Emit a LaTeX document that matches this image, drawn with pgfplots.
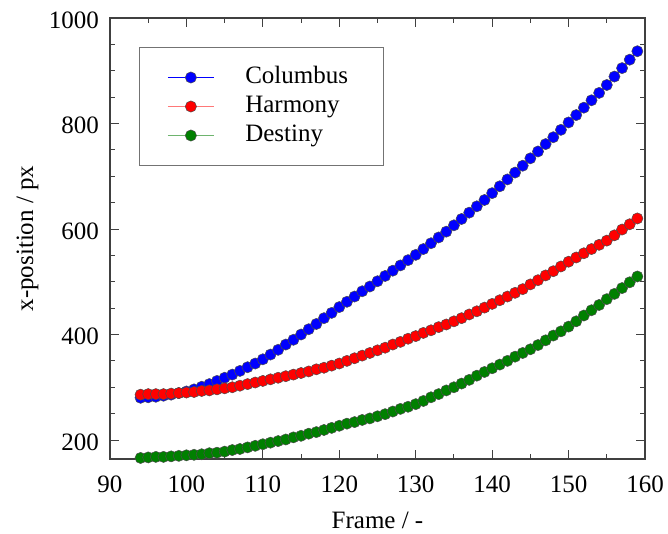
\documentclass[border=0pt]{standalone}
\usepackage{fontspec}
\setmainfont{Liberation Serif}
\usepackage{pgfplots}
\pgfplotsset{compat=1.18}
\definecolor{cblue}{RGB}{0,0,255}
\definecolor{cred}{RGB}{255,0,0}
\definecolor{cgreen}{RGB}{0,128,0}
\definecolor{lred}{RGB}{255,120,120}
\definecolor{lgreen}{RGB}{110,180,110}
\pgfplotstableread{
x y
94 280
95 281
96 282
97 284
98 286
99 289
100 292
101 296
102 301
103 306
104 312
105 318
106 324
107 331
108 338
109 345
110 353
111 362
112 371
113 381
114 390
115 400
116 410
117 420
118 431
119 441
120 452
121 462
122 472
123 482
124 491
125 501
126 511
127 521
128 531
129 541
130 551
131 562
132 573
133 584
134 595
135 607
136 619
137 631
138 643
139 655
140 668
141 681
142 694
143 707
144 720
145 734
146 747
147 761
148 774
149 788
150 802
151 816
152 830
153 844
154 858
155 873
156 889
157 905
158 921
159 937
}\columbus
\pgfplotstableread{
x y
94 286
95 287
96 287
97 287
98 288
99 289
100 290
101 291
102 293
103 294
104 296
105 298
106 300
107 303
108 306
109 309
110 312
111 315
112 318
113 321
114 324
115 327
116 330
117 334
118 337
119 341
120 345
121 350
122 355
123 360
124 365
125 370
126 375
127 381
128 386
129 392
130 397
131 403
132 408
133 414
134 419
135 425
136 431
137 438
138 444
139 451
140 458
141 465
142 472
143 479
144 486
145 495
146 503
147 512
148 520
149 529
150 538
151 546
152 554
153 562
154 570
155 578
156 588
157 599
158 609
159 620
}\harmony
\pgfplotstableread{
x y
94 166
95 167
96 168
97 168
98 169
99 170
100 171
101 172
102 173
103 175
104 176
105 178
106 181
107 183
108 186
109 189
110 192
111 195
112 198
113 201
114 205
115 208
116 212
117 215
118 219
119 223
120 227
121 231
122 234
123 238
124 241
125 245
126 249
127 254
128 259
129 263
130 268
131 274
132 281
133 287
134 294
135 300
136 307
137 314
138 322
139 329
140 336
141 343
142 350
143 358
144 365
145 372
146 380
147 389
148 398
149 406
150 415
151 425
152 436
153 446
154 456
155 467
156 477
157 488
158 499
159 510
}\destiny
\begin{document}
\begin{tikzpicture}
\begin{axis}[
  name=ax,
  scale only axis, width=535pt, height=441pt,
  xmin=90, xmax=160, ymin=164, ymax=1000,
  xtick={90,100,...,160}, ytick={200,400,...,1000},
  minor x tick num=1, minor y tick num=3,
  tick align=inside, major tick length=9pt, minor tick length=5pt,
  axis line style={line width=1.2pt, black!75},
  every tick/.style={black!75, line width=0.9pt},
  /pgf/number format/assume math mode=true,
  /pgf/number format/1000 sep={},
  ticklabel style={font=\fontsize{25}{30}\selectfont, inner sep=0pt},
  yticklabel style={xshift=-11pt, yshift=-2pt},
  xticklabel style={yshift=-17pt},
  xlabel={Frame / -}, ylabel={x-position / px},
  every axis x label/.style={at={(axis description cs:0.5,0)}, anchor=base, yshift=-69pt, font=\fontsize{25}{30}\selectfont},
  every axis y label/.style={at={(axis description cs:-0.1439,0.5)}, anchor=base, rotate=90, font=\fontsize{25}{30}\selectfont},
  legend style={at={(axis description cs:0.0542,0.9342)}, anchor=north west,
    draw=black!55, line width=1pt, fill=white,
    inner xsep=28pt, inner ysep=18pt,
    row sep=5pt,
    font=\fontsize{25}{30}\selectfont,
    nodes={inner sep=0pt, text height=18pt, text depth=6pt, text width=110pt, align=left}},
  legend cell align=left,
  /tikz/every odd column/.append style={column sep=31pt},
  legend image code/.code={\draw[mark repeat=2, mark phase=2, #1] plot coordinates {(0pt,0pt) (23pt,0pt) (46pt,0pt)};},
]
\addplot[color=cblue, line width=0.8pt, mark=*, mark size=5.6pt, mark options={fill=cblue, draw=black!70, line width=0.5pt}] table {\columbus};
\addlegendentry{Columbus}
\addplot[color=lred, line width=0.8pt, mark=*, mark size=5.6pt, mark options={fill=cred, draw=black!70, line width=0.5pt}] table {\harmony};
\addlegendentry{Harmony}
\addplot[color=lgreen, line width=0.8pt, mark=*, mark size=5.6pt, mark options={fill=cgreen, draw=black!70, line width=0.5pt}] table {\destiny};
\addlegendentry{Destiny}
\end{axis}
\pgfresetboundingbox
\path (ax.south west) ++(-110pt,-74pt) rectangle ++(668pt,533pt);
\end{tikzpicture}
\end{document}
